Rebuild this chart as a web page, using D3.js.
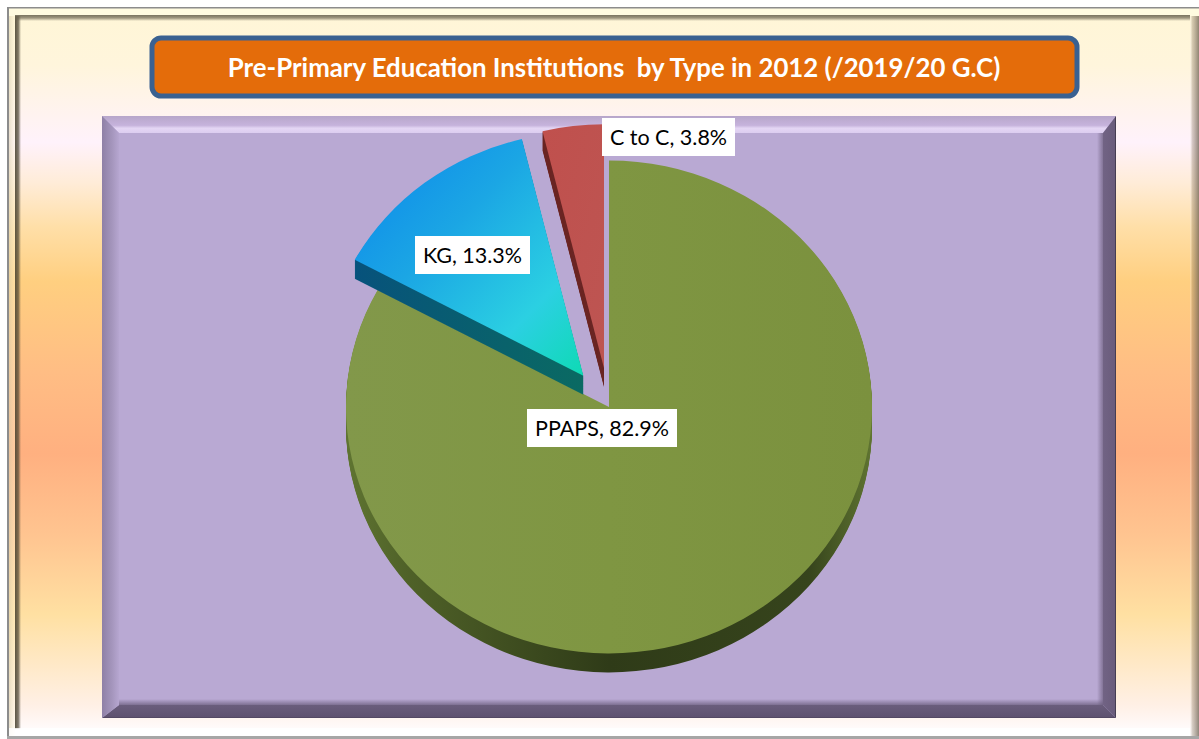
<!DOCTYPE html>
<html>
<head>
<meta charset="utf-8">
<script src="https://cdn.jsdelivr.net/npm/d3@7"></script>
<style>
html, body { margin: 0; padding: 0; background: #fff; }
svg { display: block; }
text { font-family: Lato, "Open Sans", sans-serif; }
</style>
</head>
<body>
<div id="chart"></div>
<script>
var width = 1199, height = 739;

var title = 'Pre-Primary Education Institutions  by Type in 2012 (/2019/20 G.C)';
var categories = ['PPAPS', 'KG', 'C to C'];
var shares = [82.9, 13.3, 3.8];

var cx = 609, cy = 407, radius = 263, squash = 0.937, depth = 19;
var explodeBy = 42, explodedRadius = 260;

var svg = d3.select('#chart')
    .append('svg')
    .attr('width', width)
    .attr('height', height);

var defs = svg.append('defs');

function linear(id, x1, y1, x2, y2, stops) {
    var g = defs.append('linearGradient')
        .attr('id', id)
        .attr('x1', x1).attr('y1', y1)
        .attr('x2', x2).attr('y2', y2);
    stops.forEach(function (s) {
        g.append('stop')
            .attr('offset', s[0])
            .attr('stop-color', s[1])
            .attr('stop-opacity', s[2] === undefined ? 1 : s[2]);
    });
}

function box(x, y, w, h, fill, opacity) {
    return svg.append('rect')
        .attr('x', x).attr('y', y)
        .attr('width', w).attr('height', h)
        .attr('fill', fill)
        .attr('opacity', opacity === undefined ? 1 : opacity);
}

// page background, bands
linear('pageBg', 0, 0, 0, 1, [
    [0, '#fff6d6'], [0.08, '#fff5dc'], [0.185, '#fff2fb'], [0.24, '#ffecd8'],
    [0.3, '#ffdfa8'], [0.375, '#ffcf80'], [0.5, '#ffbd84'], [0.61, '#ffb080'],
    [0.72, '#ffc490'], [0.83, '#ffe0a2'], [0.955, '#fff0e6'], [0.985, '#fffafa'], [1, '#ffffff']
]);
box(7, 7, 1192, 732, 'url(#pageBg)');

// outer frame bands
linear('frameLight', 0, 0, 1, 0, [[0, '#d8d0b0', 0.6], [1, '#fff8d8', 0.35]]);
linear('frameDarkV', 0, 0, 1, 0, [[0, '#4a4432', 0.9], [0.55, '#4a4432', 0.7], [1, '#4a4432', 0]]);
linear('frameDarkH', 0, 0, 0, 1, [[0, '#6a6450', 0.9], [0.5, '#6a6450', 0.65], [1, '#6a6450', 0]]);
linear('frameRight', 0, 0, 1, 0, [[0, '#ffffff', 0.25], [0.25, '#8c7c68', 0.35], [1, '#6b5f50', 0.75]]);
box(9, 8, 6, 728, 'url(#frameLight)');
box(15, 15, 6, 714, 'url(#frameDarkV)');
box(7, 8, 1192, 8, '#fffbe0');
box(15, 15, 1175, 6, 'url(#frameDarkH)');
box(1190, 16, 9, 720, 'url(#frameRight)');
box(9, 728, 1181, 8, '#fff', 0.85);
box(7, 7, 1192, 1.5, '#8c8c8c');
box(7, 7, 2, 732, '#8c8c8c');
box(7, 736, 1192, 3, '#a6a6a6');

// title box
svg.append('rect')
    .attr('x', 152).attr('y', 38)
    .attr('width', 925).attr('height', 58)
    .attr('rx', 9)
    .attr('fill', '#e46c0a')
    .attr('stroke', '#3a6191')
    .attr('stroke-width', 5);
svg.append('text')
    .attr('x', 614).attr('y', 77)
    .attr('text-anchor', 'middle')
    .attr('font-size', 25.8)
    .attr('font-weight', 700)
    .attr('fill', '#fff')
    .style('white-space', 'pre')
    .text(title);

// plot panel with mitred bevel
var px = 102, py = 116, pw = 1014, ph = 602, bTL = 17, bBR = 13;
box(px, py, pw, ph, '#b9a9d3');
linear('bevelTop', 0, 0, 0, 1, [[0, '#b7a6ca'], [0.55, '#c6b3dc'], [0.72, '#e4d6f4'], [1, '#dccdf0']]);
linear('bevelLeft', 0, 0, 1, 0, [[0, '#8f80a6'], [0.6, '#a596bd'], [1, '#b6a6d0']]);
linear('bevelRight', 0, 0, 1, 0, [[0, '#716384'], [0.9, '#6a5c7c'], [1, '#2f2a38']]);
linear('bevelBottom', 0, 0, 0, 1, [[0, '#6a5d7c'], [0.92, '#5f5270'], [1, '#4a4058']]);
linear('softRight', 0, 0, 1, 0, [[0, '#716384', 0], [1, '#716384', 0.75]]);
linear('softBottom', 0, 0, 0, 1, [[0, '#6a5d7c', 0], [1, '#6a5d7c', 0.75]]);
box(px + pw - bBR - 6, py + bTL, 6, ph - bTL - bBR, 'url(#softRight)');
box(px + bTL, py + ph - bBR - 6, pw - bTL - bBR, 6, 'url(#softBottom)');
var bevelFaces = [
    ['url(#bevelTop)', [[px, py], [px + pw, py], [px + pw - bBR, py + bTL], [px + bTL, py + bTL]]],
    ['url(#bevelRight)', [[px + pw, py], [px + pw, py + ph], [px + pw - bBR, py + ph - bBR], [px + pw - bBR, py + bTL]]],
    ['url(#bevelBottom)', [[px + pw, py + ph], [px, py + ph], [px + bTL, py + ph - bBR], [px + pw - bBR, py + ph - bBR]]],
    ['url(#bevelLeft)', [[px, py + ph], [px, py], [px + bTL, py + bTL], [px + bTL, py + ph - bBR]]]
];
svg.selectAll('.bevel')
    .data(bevelFaces)
    .enter()
    .append('polygon')
    .attr('class', 'bevel')
    .attr('points', function (d) { return d[1].join(' '); })
    .attr('fill', function (d) { return d[0]; });

// pie
var arcs = d3.pie().sort(null)(shares);
var arcFull = d3.arc().innerRadius(0).outerRadius(radius);
var arcOut = d3.arc().innerRadius(0).outerRadius(explodedRadius);

linear('topGreen', 0, 0, 1, 0, [[0, '#82984a'], [0.5, '#7f9642'], [1, '#7b913e']]);
linear('topKG', 0, 0, 1, 1, [[0, '#0b84ec'], [0.4, '#1ba6e4'], [0.75, '#2bd0e2'], [1, '#0edab4']]);
linear('topCC', 0, 0, 1, 1, [[0, '#c0504d'], [1, '#bd5552']]);
linear('sideGreen', 0, 0, 1, 0, [[0, '#5f7431'], [0.12, '#4f6128'], [0.5, '#2f3b18'], [0.88, '#36441c'], [1, '#5f7431']]);
linear('sideKG', 0, 0, 1, 0, [[0, '#07527c'], [1, '#0a6a62']]);

var sliceFills = ['url(#topGreen)', 'url(#topKG)', 'url(#topCC)'];
var sideFills = ['url(#sideGreen)', 'url(#sideKG)', '#6b2624'];

function slicePath(i) {
    return i === 0 ? arcFull(arcs[i]) : arcOut(arcs[i]);
}

var slices = svg.selectAll('.slice')
    .data(d3.range(categories.length))
    .enter()
    .append('g')
    .attr('class', 'slice')
    .attr('transform', function (i) {
        var a = (arcs[i].startAngle + arcs[i].endAngle) / 2;
        var off = i === 0 ? 0 : explodeBy;
        return 'translate(' + (cx + Math.sin(a) * off) + ',' + (cy - Math.cos(a) * off * squash) + ')';
    });

// side wall: stacked copies of the slice pushed down by the depth
slices.each(function (i) {
    d3.select(this).selectAll('.side')
        .data(d3.range(depth, 0, -1))
        .enter()
        .append('path')
        .attr('class', 'side')
        .attr('d', slicePath(i))
        .attr('transform', function (d) { return 'translate(0,' + d + ') scale(1,' + squash + ')'; })
        .attr('fill', sideFills[i]);
});

slices.append('path')
    .attr('d', slicePath)
    .attr('transform', 'scale(1,' + squash + ')')
    .attr('fill', function (i) { return sliceFills[i]; });

// data labels
var labelBoxes = [[527, 409, 150, 38], [415, 236, 115, 38], [602, 118, 133, 38]];
var labels = svg.selectAll('.label')
    .data(d3.range(categories.length))
    .enter()
    .append('g')
    .attr('class', 'label');
labels.append('rect')
    .attr('x', function (i) { return labelBoxes[i][0]; })
    .attr('y', function (i) { return labelBoxes[i][1]; })
    .attr('width', function (i) { return labelBoxes[i][2]; })
    .attr('height', function (i) { return labelBoxes[i][3]; })
    .attr('fill', '#fff');
labels.append('text')
    .attr('x', function (i) { return labelBoxes[i][0] + labelBoxes[i][2] / 2; })
    .attr('y', function (i) { return labelBoxes[i][1] + 27; })
    .attr('text-anchor', 'middle')
    .attr('font-size', 21.5)
    .attr('fill', '#000')
    .text(function (i) { return categories[i] + ', ' + shares[i].toFixed(1) + '%'; });
</script>
</body>
</html>
